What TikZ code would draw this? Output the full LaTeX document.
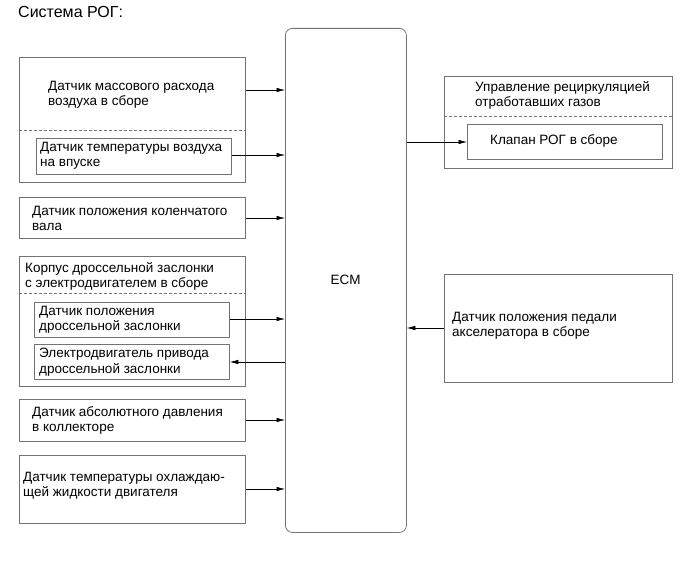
\documentclass[tikz,border=0pt]{standalone}
\usepackage{fontspec}
\setmainfont{Liberation Sans}
\usetikzlibrary{arrows.meta}
\begin{document}
\begin{tikzpicture}[x=1pt,y=-1pt,
  box/.style={draw=black!55,line width=0.8pt,inner sep=0pt,anchor=north west},
  lbl/.style={inner sep=0pt,anchor=north west,align=left,font=\fontsize{13.5}{15.5}\selectfont},
  dash line/.style={draw=black!55,line width=0.8pt,dash pattern=on 3pt off 2pt},
  arr/.style={draw=black,line width=0.6pt,-{Latex[length=8.5pt,width=4.5pt]}}
]
\useasboundingbox (0,0) rectangle (690,561);
% title
\node[lbl,font=\fontsize{16}{18}\selectfont] (title) at (18,6) {Система РОГ:};
% ECM
\node[draw=black!55,line width=0.8pt,rounded corners=7pt,anchor=north west,minimum width=121pt,minimum height=504pt,inner sep=0pt] (ecm) at (285,28) {};
\node[lbl,anchor=center] (ecmlbl) at (345.5,280) {ECM};
% Box 1
\node[box,minimum width=226pt,minimum height=125pt] (b1) at (19,57) {};
\node[lbl] (t1) at (48,81) {Датчик массового расхода\\воздуха в сборе};
\draw[dash line] (b1.west |- 0,130) -- (b1.east |- 0,130);
\node[box,minimum width=195pt,minimum height=36pt] (b1i) at (36,138) {};
\node[lbl] (t1i) at (40,142) {Датчик температуры воздуха\\на впуске};
% Box 2
\node[box,minimum width=226pt,minimum height=41pt] (b2) at (19,197) {};
\node[lbl] (t2) at (32,206) {Датчик положения коленчатого\\вала};
% Box 3
\node[box,minimum width=226pt,minimum height=130pt] (b3) at (19,256) {};
\node[lbl] (t3) at (25,262) {Корпус дроссельной заслонки\\с электродвигателем в сборе};
\draw[dash line] (b3.west |- 0,293) -- (b3.east |- 0,293);
\node[box,minimum width=195pt,minimum height=35pt] (b3a) at (34,302) {};
\node[lbl] (t3a) at (39,306) {Датчик положения\\дроссельной заслонки};
\node[box,minimum width=195pt,minimum height=35pt] (b3b) at (34,344) {};
\node[lbl] (t3b) at (39,348) {Электродвигатель привода\\дроссельной заслонки};
% Box 4
\node[box,minimum width=226pt,minimum height=42pt] (b4) at (19,399) {};
\node[lbl] (t4) at (32,406) {Датчик абсолютного давления\\в коллекторе};
% Box 5
\node[box,minimum width=226pt,minimum height=68pt] (b5) at (19,455) {};
\node[lbl] (t5) at (23,472) {Датчик температуры охлаждаю-\\щей жидкости двигателя};
% EGR
\node[box,minimum width=228pt,minimum height=92pt] (egr) at (444,76) {};
\node[lbl] (tegr) at (475,81) {Управление рециркуляцией\\отработавших газов};
\draw[dash line] (egr.west |- 0,116) -- (egr.east |- 0,116);
\node[box,minimum width=195pt,minimum height=35pt] (valve) at (467,124) {};
\node[lbl] (tvalve) at (490,134) {Клапан РОГ в сборе};
% Pedal
\node[box,minimum width=228pt,minimum height=108pt] (pedal) at (444,274) {};
\node[lbl] (tpedal) at (452,312) {Датчик положения педали\\акселератора в сборе};
% arrows
\draw[arr] (b1.east |- 0,90) -- (ecm.west |- 0,90);
\draw[arr] (b1i.east |- 0,155) -- (ecm.west |- 0,155);
\draw[arr] (b2.east |- 0,218) -- (ecm.west |- 0,218);
\draw[arr] (b3a.east |- 0,319) -- (ecm.west |- 0,319);
\draw[arr] (ecm.west |- 0,362) -- (b3b.east |- 0,362);
\draw[arr] (b4.east |- 0,420) -- (ecm.west |- 0,420);
\draw[arr] (b5.east |- 0,489) -- (ecm.west |- 0,489);
\draw[arr] (ecm.east |- 0,142) -- (valve.west |- 0,142);
\draw[arr] (pedal.west |- 0,328) -- (ecm.east |- 0,328);
\end{tikzpicture}
\end{document}
